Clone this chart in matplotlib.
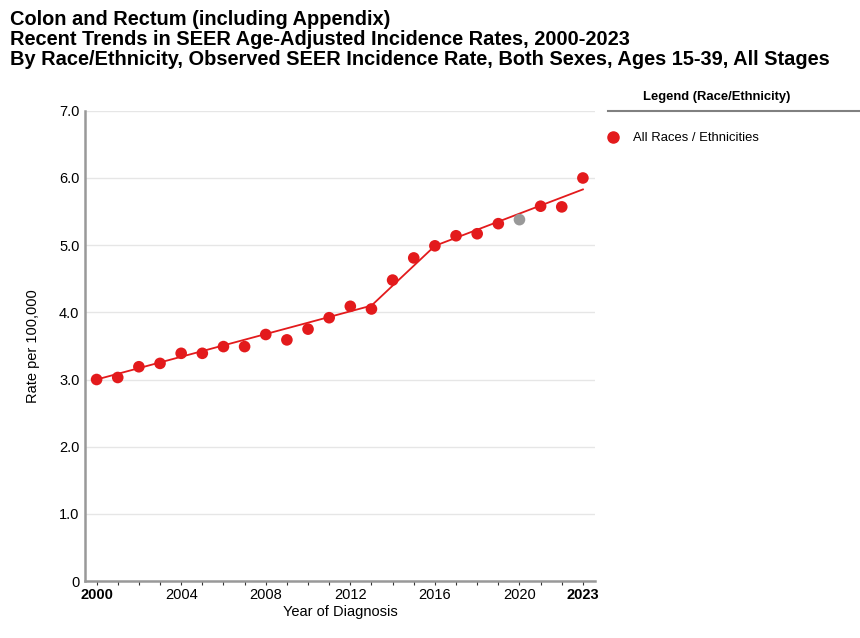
import numpy as np
import matplotlib
matplotlib.use("Agg")
import matplotlib.pyplot as plt

plt.rcParams['font.family'] = ['Liberation Sans', 'DejaVu Sans']

# observed rates
years = list(range(2000, 2024))
rates = [3.00, 3.03, 3.19, 3.24, 3.39, 3.39, 3.49, 3.49, 3.67, 3.59, 3.75, 3.92,
         4.09, 4.05, 4.48, 4.81, 4.99, 5.14, 5.17, 5.32, 5.38, 5.58, 5.57, 6.00]
excluded_years = [2020]  # drawn grey, not used in the trend fit

# joinpoint trend line
trend_years = [2000, 2013, 2016, 2023]
trend_rates = [3.00, 4.10, 4.99, 5.83]

red = "#e31a1c"
grey = "#999999"

fig = plt.figure(figsize=(8.6, 6.38), dpi=100)
ax = fig.add_axes([0.0988, 0.0893, 0.593, 0.737])

ax.plot(trend_years, trend_rates, color=red, lw=1.3, zorder=2)
cols = [grey if y in excluded_years else red for y in years]
ax.scatter(years, rates, s=70, c=cols, zorder=3, linewidths=0)

ax.set_xlim(1999.45, 2023.57)
ax.set_ylim(0, 7)
ax.set_yticks(np.arange(0, 8, 1))
ax.set_yticklabels(["0"] + [f"{v:.1f}" for v in range(1, 8)], fontsize=10.5)
ax.tick_params(axis="y", length=0, pad=4)
ax.set_xticks(years, minor=True)
ax.set_xticks([2000, 2004, 2008, 2012, 2016, 2020, 2023])
ax.set_xticklabels(["2000", "2004", "2008", "2012", "2016", "2020", "2023"], fontsize=10.5)
for lbl in ax.get_xticklabels():
    if lbl.get_text() in ("2000", "2023"):
        lbl.set_fontweight("bold")
ax.tick_params(axis="x", which="both", length=3, width=0.8, color="#333333", pad=2)
ax.grid(axis="y", color="#e6e6e6", lw=1)
ax.set_axisbelow(True)
for s in ("top", "right"):
    ax.spines[s].set_visible(False)
for s in ("left", "bottom"):
    ax.spines[s].set_color("#999999")
    ax.spines[s].set_linewidth(1.8)
ax.set_xlabel("Year of Diagnosis", fontsize=10.5, labelpad=2)
ax.set_ylabel("Rate per 100,000", fontsize=10.5, labelpad=14)

fig.text(0.012, 0.985,
         "Colon and Rectum (including Appendix)\n"
         "Recent Trends in SEER Age-Adjusted Incidence Rates, 2000-2023\n"
         "By Race/Ethnicity, Observed SEER Incidence Rate, Both Sexes, Ages 15-39, All Stages",
         fontsize=14.4, fontweight="bold", va="top", ha="left", linespacing=1.08)

# legend panel
fig.text(0.833, 0.848, "Legend (Race/Ethnicity)", fontsize=9.4, fontweight="bold",
         ha="center", va="center")
fig.add_artist(plt.Line2D([0.707, 1.0], [0.826, 0.826], color="#808080", lw=1.5))
fig.add_artist(plt.Line2D([0.7128], [0.785], marker="o", color=red, ms=8, mec=red))
fig.text(0.736, 0.784, "All Races / Ethnicities", fontsize=9.4, va="center", ha="left")

fig.savefig("out.png", dpi=100)
